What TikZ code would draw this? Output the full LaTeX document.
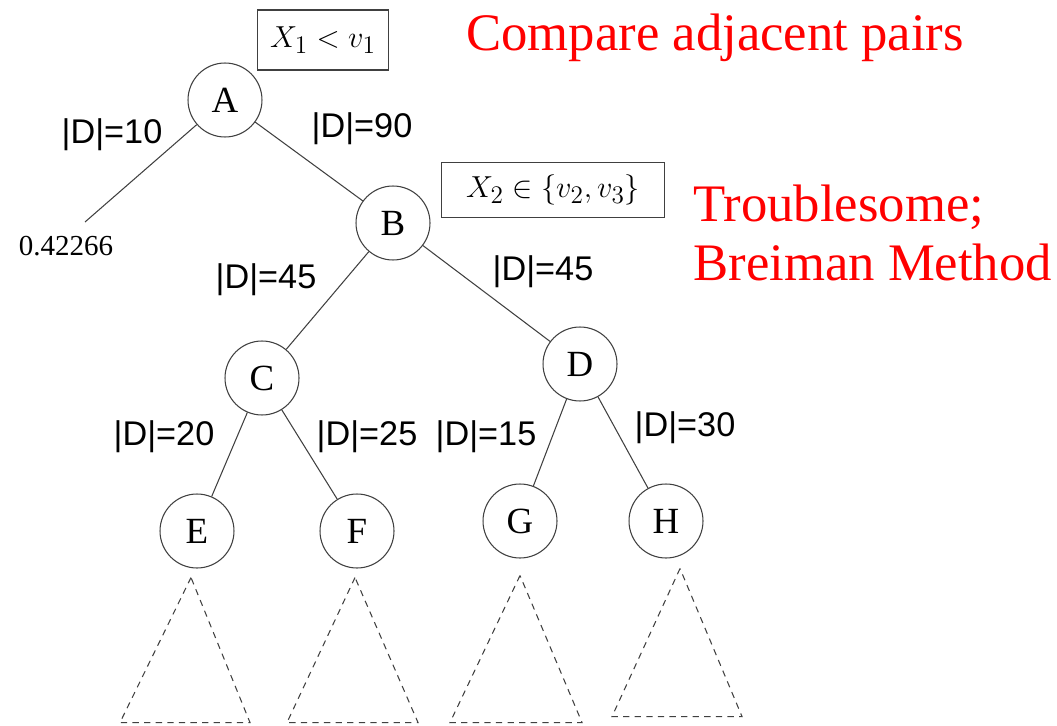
\documentclass[tikz,border=0pt]{standalone}
\usepackage{amsmath,amssymb}
\usepackage{fontspec}
\setmainfont{Liberation Serif}
\newfontfamily\lblfont{Liberation Sans}
\usetikzlibrary{positioning,calc}
\tikzset{
tnode/.style={draw=black!75,circle,line width=0.6pt,minimum size=1.48cm,inner sep=0pt,font=\fontsize{21}{24}\selectfont},
branch/.style={draw=black!75,line width=0.6pt},
subtree/.style={draw=black!75,line width=0.6pt,dash pattern=on 3.6pt off 3pt},
cnt/.style={font=\lblfont\fontsize{19.5}{22}\selectfont,inner sep=0pt},
leafval/.style={font=\fontsize{16.5}{20}\selectfont,inner sep=0pt},
testbox/.style={draw=black!75,line width=0.6pt,inner xsep=7pt,minimum height=1.2cm,font=\fontsize{19}{22}\selectfont},
remark/.style={text=red,font=\fontsize{30}{32}\selectfont,align=left,inner sep=0pt}
}
\begin{document}
\begin{tikzpicture}[x=0.02cm,y=-0.02cm]
\useasboundingbox (0,0) rectangle (1057,726);
% tree nodes
\node[tnode] (A) at (225,100) {A};
\node[tnode] (B) at (393,223) {B};
\node[tnode] (C) at (262,378) {C};
\node[tnode] (D) at (580,364) {D};
\node[tnode] (E) at (197,531) {E};
\node[tnode] (F) at (357,531) {F};
\node[tnode] (G) at (520,521) {G};
\node[tnode] (H) at (666,521) {H};
\coordinate (lf) at (85,222);
\node[leafval] (lfval) at (66,246) {0.42266};
% split tests
\node[testbox] (t1) at (323,40) {$X_1 < v_1$};
\node[testbox,minimum height=1.1cm,minimum width=4.46cm] (t2) at (553,190) {$X_2 \in \{v_2, v_3\}$};
% branches
\draw[branch] (A) -- (lf);
\draw[branch] (A) -- (B);
\draw[branch] (B) -- (C);
\draw[branch] (B) -- (D);
\draw[branch] (C) -- (E);
\draw[branch] (C) -- (F);
\draw[branch] (D) -- (G);
\draw[branch] (D) -- (H);
% counts
\node[cnt] (nAl) at (112,135) {|D|=10};
\node[cnt] (nAr) at (362,129) {|D|=90};
\node[cnt] (nBl) at (266,280) {|D|=45};
\node[cnt] (nBr) at (543,272) {|D|=45};
\node[cnt] (nCl) at (164,437) {|D|=20};
\node[cnt] (nCr) at (367,437) {|D|=25};
\node[cnt] (nDl) at (486,437) {|D|=15};
\node[cnt] (nDr) at (685,428) {|D|=30};
% unexpanded subtrees
\draw[subtree] ($(E.south)+(-6,9)$) -- ($(E.south)+(-77,154)$) -- ($(E.south)+(53,154)$) -- cycle;
\draw[subtree] ($(F.south)+(-2,9)$) -- ($(F.south)+(-70,154)$) -- ($(F.south)+(61,154)$) -- cycle;
\draw[subtree] ($(G.south)+(0,17)$) -- ($(G.south)+(-70,164)$) -- ($(G.south)+(62,164)$) -- cycle;
\draw[subtree] ($(H.south)+(14,10)$) -- ($(H.south)+(-54,158)$) -- ($(H.south)+(76,158)$) -- cycle;
% remarks
\node[remark,anchor=west] (r1) at (466,38) {Compare adjacent pairs};
\node[remark,anchor=west] (r2) at (693,233) {Troublesome;\\[2pt]Breiman Method};
\end{tikzpicture}
\end{document}
